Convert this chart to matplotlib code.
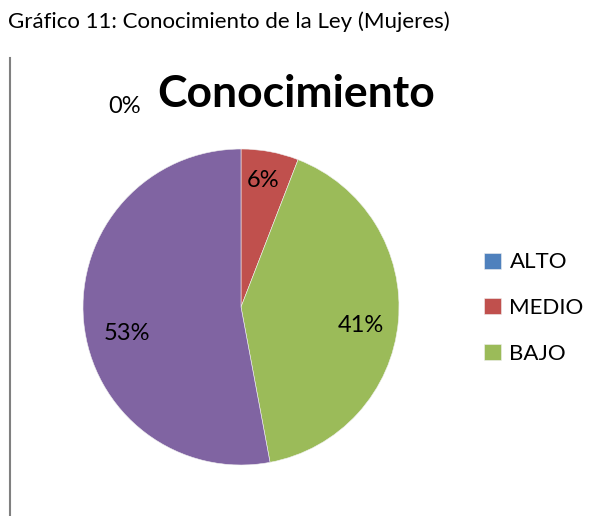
import matplotlib.pyplot as plt
from matplotlib.lines import Line2D

# Data
categories = ["ALTO", "MEDIO", "BAJO", ""]
counts = [0, 1, 7, 9]
pct_labels = ["0%", "6%", "41%", "53%"]
colors = ["#4F81BD", "#C0504D", "#9BBB59", "#8064A2"]
# label positions in pie radius units (Excel placed them by hand)
label_pos = [(-0.74, 1.27), (0.14, 0.80), (0.76, -0.12), (-0.72, -0.17)]

plt.rcParams['font.family'] = ['Lato', 'DejaVu Sans']

fig = plt.figure(figsize=(5.98, 5.16), dpi=100)
W, H = 598, 516

# caption and left border line
fig.text(8 / W, 1 - 22 / H, "Gráfico 11: Conocimiento de la Ley (Mujeres)",
         fontsize=16, va='center', ha='left')
fig.add_artist(Line2D([9.5 / W, 9.5 / W], [0, 1 - 58 / H], color='#808080', lw=1.5))

# pie axes, center (241, 307) px, radius 158 px
cx, cy, r = 241, 307, 158
ax = fig.add_axes([(cx - r) / W, (H - cy - r) / H, 2 * r / W, 2 * r / H])
wedges, _ = ax.pie(counts, colors=colors, startangle=90, counterclock=False,
                   radius=1, wedgeprops=dict(edgecolor='#f0f0f0', linewidth=0.4))
ax.set_xlim(-1, 1)
ax.set_ylim(-1, 1)
ax.set_aspect('equal')
ax.axis('off')

for lab, (x, y) in zip(pct_labels, label_pos):
    ax.text(x, y, lab, ha='center', va='center', fontsize=17, clip_on=False)

fig.text(296 / W, 1 - 94 / H, "Conocimiento", fontsize=32, fontweight='bold',
         ha='center', va='center')

fig.legend(wedges[:3], categories[:3], loc='center left',
           bbox_to_anchor=(475 / W, 1 - 308 / H), frameon=False,
           fontsize=16, handlelength=0.75, handleheight=0.75,
           labelspacing=1.15, handletextpad=0.4, borderpad=0.2,
           borderaxespad=0.2)

fig.savefig("out.png", dpi=100)
